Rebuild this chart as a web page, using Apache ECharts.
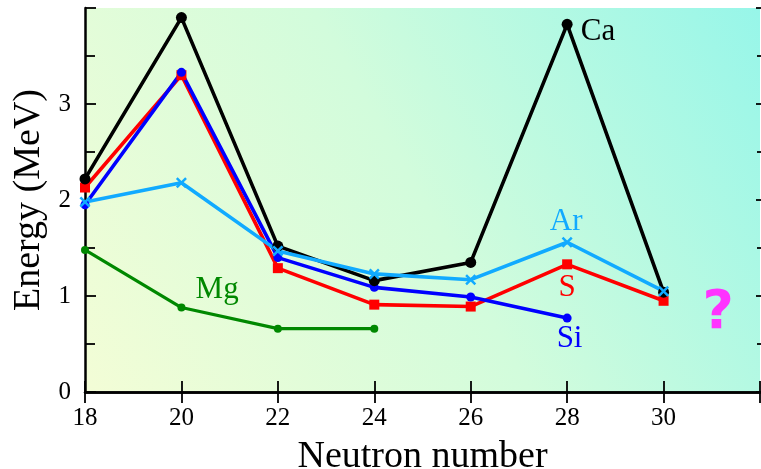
<!DOCTYPE html>
<html><head><meta charset="utf-8">
<script src="https://cdn.jsdelivr.net/npm/echarts@6/dist/echarts.min.js"></script>
<style>html,body{margin:0;padding:0;background:#fff}#c{width:761px;height:469px}</style>
</head><body><div id="c"></div>
<script>
// Neutron numbers
const neutrons = [18, 20, 22, 24, 26, 28, 30];
// 2+ excitation energies (MeV)
const ca = [2.22, 3.90, 1.52, 1.16, 1.35, 3.83, 1.04];
const s  = [2.13, 3.30, 1.29, 0.91, 0.89, 1.33, 0.95];
const si = [1.95, 3.33, 1.40, 1.09, 0.99, 0.77];
const ar = [1.98, 2.18, 1.47, 1.23, 1.17, 1.56, 1.05];
const mg = [1.48, 0.88, 0.66, 0.66];
const xTicks = [18, 20, 22, 24, 26, 28, 30];
const yTicks = [0, 1, 2, 3];
// annotation texts with their data-coordinate anchors
const notes = [
  {text: 'Ca', at: [28.64, 3.75], color: '#000000'},
  {text: 'Ar', at: [27.98, 1.77], color: '#11aaff'},
  {text: 'S',  at: [28.0, 1.08],  color: '#ff0000'},
  {text: 'Si', at: [28.05, 0.55], color: '#0000ff'},
  {text: 'Mg', at: [20.74, 1.06], color: '#008800'},
  {text: '?',  at: [31.13, 0.81], color: '#ff33ff', sans: true}
];

const pairs = (vals) => vals.map((v, i) => [neutrons[i], v]);
const xMark = 'path://M0,1.6L1.6,0L5,3.4L8.4,0L10,1.6L6.6,5L10,8.4L8.4,10L5,6.6L1.6,10L0,8.4L3.4,5Z';
const serif = 'Liberation Serif';

const chart = echarts.init(document.getElementById('c'), null, {renderer: 'canvas'});
const axisLine = {show: true, lineStyle: {color: '#000', width: 2.5}};
const tick = {show: true, inside: true, length: 11, lineStyle: {color: '#000', width: 1.8}};
chart.setOption({
  animation: false,
  backgroundColor: '#ffffff',
  grid: {left: 85, top: 8, right: 1, bottom: 77, show: true, borderWidth: 0,
    outerBoundsMode: 'none', containLabel: false,
    backgroundColor: {type: 'linear', x: 0, y: 1, x2: 1, y2: 0,
      colorStops: [{offset: 0, color: '#f3fdd6'}, {offset: 0.5, color: '#d2fcdc'}, {offset: 1, color: '#97f6e9'}]}},
  xAxis: [{
    type: 'value', min: 18, max: 32, interval: 2,
    axisLine: axisLine, axisTick: tick, splitLine: {show: false},
    axisLabel: {fontFamily: serif, fontSize: 25, color: '#000', margin: 14,
      formatter: v => xTicks.includes(v) ? String(v) : ''},
    name: 'Neutron number', nameLocation: 'middle', nameGap: 46,
    nameTextStyle: {fontFamily: serif, fontSize: 38, color: '#000'}
  }, {
    type: 'value', position: 'top', min: 18, max: 32, interval: 2,
    axisLine: axisLine, axisTick: tick, axisLabel: {show: false}, splitLine: {show: false}
  }],
  yAxis: [{
    type: 'value', min: 0, max: 4, interval: 1,
    axisLine: axisLine, axisTick: tick,
    minorTick: {show: true, splitNumber: 2, length: 10, lineStyle: {color: '#000', width: 1.8}},
    splitLine: {show: false},
    axisLabel: {fontFamily: serif, fontSize: 25, color: '#000', margin: 14,
      formatter: v => yTicks.includes(v) ? String(v) : ''},
    name: 'Energy (MeV)', nameLocation: 'middle', nameGap: 35, nameRotate: 90,
    nameTextStyle: {fontFamily: serif, fontSize: 38, color: '#000'}
  }, {
    type: 'value', position: 'right', offset: 7, min: 0, max: 4, interval: 1,
    axisLine: axisLine, axisTick: tick,
    minorTick: {show: true, splitNumber: 2, length: 10, lineStyle: {color: '#000', width: 1.8}},
    axisLabel: {show: false}, splitLine: {show: false}
  }],
  series: [
    {name: 'Mg', type: 'line', data: pairs(mg), symbol: 'circle', symbolSize: 8,
      lineStyle: {color: '#008800', width: 3.2}, itemStyle: {color: '#008800'}},
    {name: 'S', type: 'line', data: pairs(s), symbol: 'rect', symbolSize: 10,
      lineStyle: {color: '#ff0000', width: 3.6}, itemStyle: {color: '#ff0000'}},
    {name: 'Si', type: 'line', data: pairs(si), symbol: 'circle', symbolSize: 9,
      lineStyle: {color: '#0000ff', width: 3.6}, itemStyle: {color: '#0000ff'}},
    {name: 'Ca', type: 'line', data: pairs(ca), symbol: 'circle', symbolSize: 11,
      lineStyle: {color: '#000000', width: 3.6}, itemStyle: {color: '#000000'}},
    {name: 'Ar', type: 'line', data: pairs(ar), symbol: xMark, symbolSize: 11,
      lineStyle: {color: '#11aaff', width: 3.6}, itemStyle: {color: '#11aaff'}}
  ]
});

chart.setOption({
  graphic: notes.map(n => {
    const p = chart.convertToPixel({gridIndex: 0}, n.at);
    return {type: 'text', x: p[0], y: p[1], z: 100,
      style: {text: n.text, fill: n.color, align: 'center', verticalAlign: 'middle',
        font: n.sans ? 'bold 54px "DejaVu Sans"' : '31px "Liberation Serif"'}};
  })
});
</script></body></html>
